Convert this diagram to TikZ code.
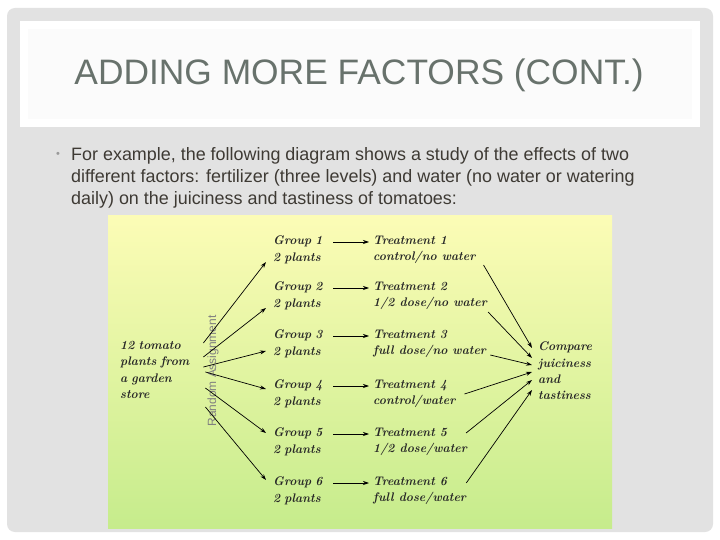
\documentclass[tikz,border=0pt]{standalone}
\usepackage{fontspec}
\newfontfamily\slidefont{Liberation Sans}
\newfontfamily\handfont[FakeStretch=0.97]{lmroman10-bolditalic.otf}
\usetikzlibrary{arrows.meta}
\definecolor{panel}{RGB}{226,226,226}
\definecolor{titlegray}{RGB}{104,114,108}
\definecolor{bodytext}{RGB}{62,58,52}
\definecolor{padtop}{RGB}{252,252,182}
\definecolor{padbottom}{RGB}{198,236,140}

\begin{document}
\begin{tikzpicture}[x=1bp, y=-1bp,
  hand/.style={font=\handfont\fontsize{12.5}{16.5}\selectfont, text=black!85, align=left, inner sep=4bp, anchor=west},
  arr/.style={-{Stealth[length=6bp,width=4bp]}, line width=0.7bp}]
\useasboundingbox (0,0) rectangle (720,540);
\fill[white] (0,0) rectangle (720,540);
\fill[panel, rounded corners=8bp] (7,8) rectangle (713,532);
\fill[white] (20,21) rectangle (700,127);
\fill[white!97!gray] (28,29) rectangle (692,119);
\node[text=titlegray, font=\slidefont\fontsize{35.5}{40}\selectfont] (title) at (359,75) {ADDING MORE FACTORS (CONT.)};

\node[text=gray!80, font=\slidefont\fontsize{11}{12}\selectfont] (dot) at (58,155) {•};
\node[text=bodytext, font=\slidefont\fontsize{18}{22}\selectfont, align=left, anchor=north west, inner sep=0pt] (intro) at (71,147)
  {For example, the following diagram shows a study of the effects of two\\
   different factors: fertilizer (three levels) and water (no water or watering\\
   daily) on the juiciness and tastiness of tomatoes:};

% the diagram
\shade[top color=padtop, bottom color=padbottom] (108,216) rectangle (612,528);

\node[hand, text width=76bp] (store) at (116,370) {12 tomato\\plants from\\a garden\\store};
\node[rotate=90, text=gray, font=\slidefont\fontsize{12}{14}\selectfont] (rand) at (213,371) {Random Assignment};

\foreach \i/\y/\what in {1/250/{control/no water}, 2/296/{1/2 dose/no water}, 3/344/{full dose/no water},
                         4/394/{control/water}, 5/442/{1/2 dose/water}, 6/491/{full dose/water}} {
  \node[hand, text width=56bp] (g\i) at (269,\y) {Group \i\\2 plants};
  \node[hand] (t\i) at (369,\y) {Treatment \i\\\what};
  \draw[arr] ([yshift=8bp]g\i.east) -- ([yshift=8bp]g\i.east -| t\i.west);
}

\node[hand] (cmp) at (534,371) {Compare\\juiciness\\and\\tastiness};

\foreach \i/\sx/\sy/\ey in {1/3/27/-12, 2/3/13/-12, 3/3/3/-7, 4/5/-2/5, 5/5/-18/9, 6/5/-37/11}
  \draw[arr] ([xshift=\sx bp, yshift=\sy bp]store.east) -- ([xshift=-3bp, yshift=\ey bp]g\i.west);

\foreach \i/\sx/\sy/\ey in {1/4/-15/23, 2/-3/-16/13, 3/0/-11/6, 4/5/0/-1, 5/-5/9/-9, 6/-4/8/-19}
  \draw[arr] ([xshift=\sx bp, yshift=\sy bp]t\i.east) -- ([xshift=-2bp, yshift=\ey bp]cmp.west);
\end{tikzpicture}
\end{document}
